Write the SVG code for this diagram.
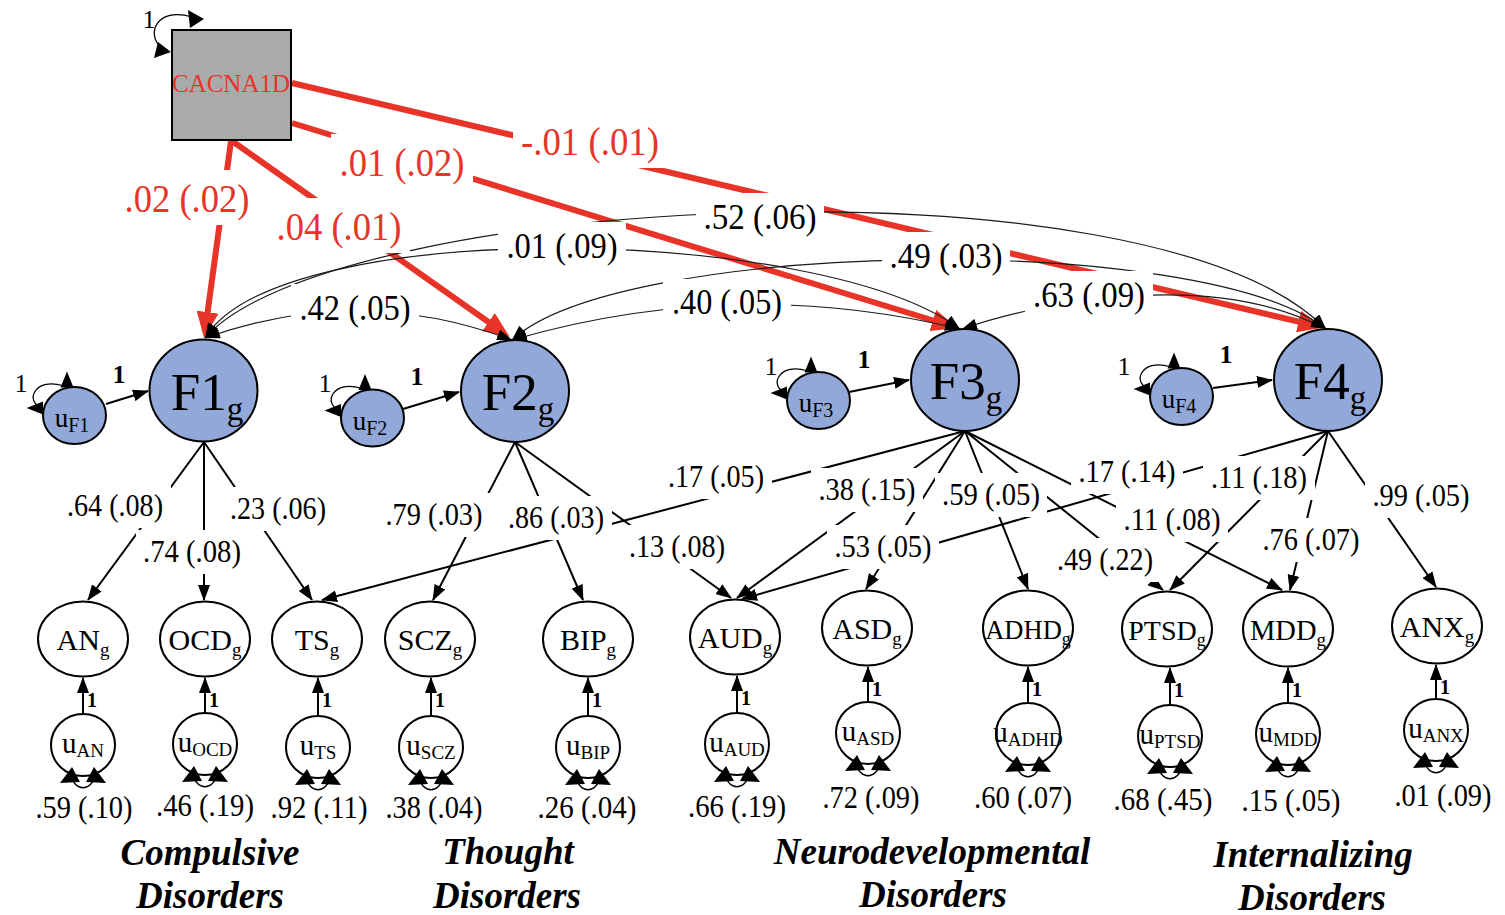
<svg xmlns="http://www.w3.org/2000/svg" width="1505" height="915" viewBox="0 0 1505 915">
<style>
text{font-family:'Liberation Serif','Times New Roman',serif;fill:#000}
.fac{fill:#91a8d8;stroke:#000;stroke-width:2}
.ind{fill:#fff;stroke:#000;stroke-width:2}
.box{fill:#aaa;stroke:#000;stroke-width:2}
.load{fill:none;stroke:#000;stroke-width:2;marker-end:url(#ah)}
.cov{fill:none;stroke:#1a1a1a;stroke-width:1.2;marker-start:url(#ahc);marker-end:url(#ahc)}
.red{fill:none;stroke:#e83428;stroke-width:6;marker-end:url(#ahr)}
.loop{fill:none;stroke:#000;stroke-width:1.3}
.bg{fill:#fff}
.l28{font-size:31px;text-anchor:middle}
.l32{font-size:35px;text-anchor:middle}
.lr{font-size:39px;text-anchor:middle;fill:#e83428}
.grp{font-size:37px;font-weight:bold;font-style:italic;text-anchor:middle}
.one{font-size:26px;text-anchor:middle}
.oneb{font-size:26px;font-weight:bold;text-anchor:middle}
.onei{font-size:20px;font-weight:bold}
.fl{font-size:53px;text-anchor:middle}
.il{font-size:30px;text-anchor:middle}
.uf{font-size:27px;text-anchor:middle}
.ui{font-size:29px;text-anchor:middle}
.var{font-size:31.5px;text-anchor:middle}
</style>
<defs>
<marker id="ah" viewBox="0 0 16 12" refX="15" refY="6" markerWidth="16" markerHeight="12" markerUnits="userSpaceOnUse" orient="auto"><path d="M0,0L16,6L0,12z" fill="#000"/></marker>
<marker id="ahc" viewBox="0 0 15 11" refX="15" refY="5.5" markerWidth="15" markerHeight="11" markerUnits="userSpaceOnUse" orient="auto-start-reverse"><path d="M0,0L15,5.5L0,11z" fill="#000"/></marker>
<marker id="ahr" viewBox="0 0 26 22" refX="19" refY="11" markerWidth="26" markerHeight="22" markerUnits="userSpaceOnUse" orient="auto"><path d="M0,0L26,11L0,22z" fill="#e83428"/></marker>
<g id="uloop"><path class="loop" d="M-12 30 C-9 47 9 47 12 30"/><polygon points="-23,38 -11,22 -3,37"/><polygon points="3,37 11,22 23,38"/></g>
<g id="floop"><path class="loop" d="M-12 -30 C-40 -38 -50 -14 -33 -8"/><polygon points="-7.5,-44 -14,-28 -1,-28"/><polygon points="-48,-7.5 -31.5,-14 -31.5,-1"/></g>
</defs>

<g id="connectors">
  <path class="red" d="M231 141 L205 331"/>
  <path class="red" d="M232 141 L504 333"/>
  <path class="red" d="M292 123 L951 326"/>
  <path class="red" d="M292 83 L1317 326"/>
  <path class="cov" d="M205 338 Q359 283 512 340"/>
  <path class="cov" d="M205 338 C280 215 820 225 960 329"/>
  <path class="cov" d="M205 338 C330 195 1150 150 1326 329"/>
  <path class="cov" d="M512 340 Q736 275 960 329"/>
  <path class="cov" d="M512 340 C620 240 1200 230 1326 329"/>
  <path class="cov" d="M962 329 C1040 302 1210 268 1326 329"/>
  <path class="load" d="M204 442 L88 600"/>
  <path class="load" d="M204 442 L204 600"/>
  <path class="load" d="M204 442 L312 600"/>
  <path class="load" d="M515 442 L433 600"/>
  <path class="load" d="M515 442 L583 600"/>
  <path class="load" d="M515 442 L731 598"/>
  <path class="load" d="M965 431 L322 600"/>
  <path class="load" d="M965 431 L737 598"/>
  <path class="load" d="M965 431 L866 589"/>
  <path class="load" d="M965 431 L1028 589"/>
  <path class="load" d="M965 431 L1163 590"/>
  <path class="load" d="M965 431 L1282 590"/>
  <path class="load" d="M1328 431 L742 599"/>
  <path class="load" d="M1328 431 L1170 590"/>
  <path class="load" d="M1328 431 L1290 590"/>
  <path class="load" d="M1328 431 L1436 587"/>
  <path class="load" d="M106 404 L148 391"/>
  <path class="load" d="M403 409 L459 392"/>
  <path class="load" d="M849 392 L909 380"/>
  <path class="load" d="M1213 388 L1272 380"/>
  <path class="load" d="M83 714 L83 678"/>
  <path class="load" d="M205 713 L205 678"/>
  <path class="load" d="M318 716 L318 678"/>
  <path class="load" d="M431 716 L431 678"/>
  <path class="load" d="M588 716 L588 678"/>
  <path class="load" d="M737 713 L737 676"/>
  <path class="load" d="M868 702 L868 667"/>
  <path class="load" d="M1028 703 L1028 667"/>
  <path class="load" d="M1170 705 L1170 668"/>
  <path class="load" d="M1288 703 L1288 668"/>
  <path class="load" d="M1436 699 L1436 665"/>
</g>

<g id="edge-labels">
  <rect class="bg" x="116" y="170" width="142" height="55"/><text class="lr" x="187" y="212" textLength="125" lengthAdjust="spacingAndGlyphs">.02 (.02)</text>
  <rect class="bg" x="268" y="198" width="142" height="55"/><text class="lr" x="339" y="240" textLength="125" lengthAdjust="spacingAndGlyphs">.04 (.01)</text>
  <rect class="bg" x="331" y="134" width="142" height="55"/><text class="lr" x="402" y="176" textLength="125" lengthAdjust="spacingAndGlyphs">.01 (.02)</text>
  <rect class="bg" x="513" y="113" width="154" height="55"/><text class="lr" x="590" y="155" textLength="138" lengthAdjust="spacingAndGlyphs">-.01 (.01)</text>

  <rect class="bg" x="291" y="284" width="128" height="48"/><text class="l32" x="355" y="320" textLength="111" lengthAdjust="spacingAndGlyphs">.42 (.05)</text>
  <rect class="bg" x="498" y="222" width="128" height="48"/><text class="l32" x="562" y="258" textLength="111" lengthAdjust="spacingAndGlyphs">.01 (.09)</text>
  <rect class="bg" x="696" y="193" width="128" height="48"/><text class="l32" x="760" y="229" textLength="113" lengthAdjust="spacingAndGlyphs">.52 (.06)</text>
  <rect class="bg" x="663" y="279" width="128" height="48"/><text class="l32" x="727" y="314" textLength="110" lengthAdjust="spacingAndGlyphs">.40 (.05)</text>
  <rect class="bg" x="882" y="232" width="128" height="48"/><text class="l32" x="946" y="268" textLength="113" lengthAdjust="spacingAndGlyphs">.49 (.03)</text>
  <rect class="bg" x="1025" y="271" width="128" height="48"/><text class="l32" x="1089" y="307" textLength="112" lengthAdjust="spacingAndGlyphs">.63 (.09)</text>

  <rect class="bg" x="59" y="484" width="112" height="44"/><text class="l28" x="115" y="516" textLength="96" lengthAdjust="spacingAndGlyphs">.64 (.08)</text>
  <rect class="bg" x="136" y="530" width="112" height="44"/><text class="l28" x="192" y="562" textLength="98" lengthAdjust="spacingAndGlyphs">.74 (.08)</text>
  <rect class="bg" x="222" y="487" width="112" height="44"/><text class="l28" x="278" y="519" textLength="96" lengthAdjust="spacingAndGlyphs">.23 (.06)</text>
  <rect class="bg" x="378" y="493" width="112" height="44"/><text class="l28" x="434" y="525" textLength="97" lengthAdjust="spacingAndGlyphs">.79 (.03)</text>
  <rect class="bg" x="500" y="496" width="112" height="44"/><text class="l28" x="556" y="528" textLength="96" lengthAdjust="spacingAndGlyphs">.86 (.03)</text>
  <rect class="bg" x="621" y="525" width="112" height="44"/><text class="l28" x="677" y="557" textLength="96" lengthAdjust="spacingAndGlyphs">.13 (.08)</text>
  <rect class="bg" x="660" y="455" width="112" height="44"/><text class="l28" x="716" y="487" textLength="96" lengthAdjust="spacingAndGlyphs">.17 (.05)</text>
  <rect class="bg" x="811" y="468" width="112" height="44"/><text class="l28" x="867" y="500" textLength="97" lengthAdjust="spacingAndGlyphs">.38 (.15)</text>
  <rect class="bg" x="935" y="473" width="112" height="44"/><text class="l28" x="991" y="505" textLength="98" lengthAdjust="spacingAndGlyphs">.59 (.05)</text>
  <rect class="bg" x="827" y="525" width="112" height="44"/><text class="l28" x="883" y="557" textLength="97" lengthAdjust="spacingAndGlyphs">.53 (.05)</text>
  <rect class="bg" x="1071" y="450" width="112" height="44"/><text class="l28" x="1127" y="482" textLength="97" lengthAdjust="spacingAndGlyphs">.17 (.14)</text>
  <rect class="bg" x="1049" y="538" width="112" height="44"/><text class="l28" x="1105" y="570" textLength="96" lengthAdjust="spacingAndGlyphs">.49 (.22)</text>
  <rect class="bg" x="1116" y="498" width="112" height="44"/><text class="l28" x="1172" y="530" textLength="97" lengthAdjust="spacingAndGlyphs">.11 (.08)</text>
  <rect class="bg" x="1203" y="456" width="112" height="44"/><text class="l28" x="1259" y="488" textLength="96" lengthAdjust="spacingAndGlyphs">.11 (.18)</text>
  <rect class="bg" x="1255" y="518" width="112" height="44"/><text class="l28" x="1311" y="550" textLength="97" lengthAdjust="spacingAndGlyphs">.76 (.07)</text>
  <rect class="bg" x="1365" y="474" width="112" height="44"/><text class="l28" x="1421" y="506" textLength="97" lengthAdjust="spacingAndGlyphs">.99 (.05)</text>
</g>

<g id="CACNA1D">
  <rect class="box" x="172" y="30" width="119" height="110"/>
  <text x="231" y="92" font-size="25" text-anchor="middle" style="fill:#e83428">CACNA1D</text>
  <path class="loop" d="M161 47 C146 35 156 6 192 17"/>
  <polygon points="204,19 188,10 190,28"/>
  <polygon points="154,58 158,42 171,52"/>
  <text class="one" x="149" y="28">1</text>
</g>

<g id="F1"><ellipse class="fac" cx="203.5" cy="390.5" rx="54" ry="51"/><text class="fl" x="207" y="410">F1<tspan font-size="33" dy="10">g</tspan></text></g>
<g id="F2"><ellipse class="fac" cx="515" cy="391" rx="54" ry="51"/><text class="fl" x="518" y="410">F2<tspan font-size="33" dy="10">g</tspan></text></g>
<g id="F3"><ellipse class="fac" cx="965" cy="380" rx="54" ry="51"/><text class="fl" x="966" y="399">F3<tspan font-size="33" dy="10">g</tspan></text></g>
<g id="F4"><ellipse class="fac" cx="1328" cy="380" rx="54" ry="51"/><text class="fl" x="1330" y="399">F4<tspan font-size="33" dy="10">g</tspan></text></g>

<g id="uF1"><ellipse class="fac" cx="74.5" cy="415.5" rx="31.5" ry="28.5"/><text class="uf" x="72" y="427">u<tspan font-size="20" dy="5">F1</tspan></text><use href="#floop" x="74.5" y="415.5"/><text class="one" x="21" y="392">1</text><text class="oneb" x="119" y="383">1</text></g>
<g id="uF2"><ellipse class="fac" cx="372.5" cy="418" rx="31.5" ry="28.5"/><text class="uf" x="370" y="430">u<tspan font-size="20" dy="5">F2</tspan></text><use href="#floop" x="372.5" y="418"/><text class="one" x="325" y="392">1</text><text class="oneb" x="417" y="385">1</text></g>
<g id="uF3"><ellipse class="fac" cx="818.5" cy="400.5" rx="31.5" ry="28.5"/><text class="uf" x="816" y="412">u<tspan font-size="20" dy="5">F3</tspan></text><use href="#floop" x="818.5" y="400.5"/><text class="one" x="771" y="375">1</text><text class="oneb" x="864" y="368">1</text></g>
<g id="uF4"><ellipse class="fac" cx="1181.5" cy="396.5" rx="31.5" ry="28.5"/><text class="uf" x="1179" y="408">u<tspan font-size="20" dy="5">F4</tspan></text><use href="#floop" x="1181.5" y="396.5"/><text class="one" x="1124" y="375">1</text><text class="oneb" x="1226" y="363">1</text></g>

<g id="AN"><ellipse class="ind" cx="83" cy="639" rx="45" ry="37.5"/><text class="il" x="83" y="650">AN<tspan font-size="19" dy="6">g</tspan></text></g>
<g id="OCD"><ellipse class="ind" cx="205" cy="639" rx="45" ry="37.5"/><text class="il" x="205" y="650">OCD<tspan font-size="19" dy="6">g</tspan></text></g>
<g id="TS"><ellipse class="ind" cx="317" cy="639" rx="45" ry="37.5"/><text class="il" x="317" y="650">TS<tspan font-size="19" dy="6">g</tspan></text></g>
<g id="SCZ"><ellipse class="ind" cx="430" cy="639" rx="45" ry="37.5"/><text class="il" x="430" y="650">SCZ<tspan font-size="19" dy="6">g</tspan></text></g>
<g id="BIP"><ellipse class="ind" cx="588" cy="639" rx="45" ry="37.5"/><text class="il" x="588" y="650">BIP<tspan font-size="19" dy="6">g</tspan></text></g>
<g id="AUD"><ellipse class="ind" cx="735" cy="637" rx="45" ry="37.5"/><text class="il" x="735" y="648">AUD<tspan font-size="19" dy="6">g</tspan></text></g>
<g id="ASD"><ellipse class="ind" cx="867" cy="628" rx="45" ry="37.5"/><text class="il" x="867" y="639">ASD<tspan font-size="19" dy="6">g</tspan></text></g>
<g id="ADHD"><ellipse class="ind" cx="1028" cy="628" rx="45" ry="37.5"/><text class="il" x="1028" y="639" font-size="26.5" style="font-size:26.5px">ADHD<tspan font-size="18" dy="6">g</tspan></text></g>
<g id="PTSD"><ellipse class="ind" cx="1167" cy="629" rx="45" ry="37.5"/><text class="il" x="1167" y="640" style="font-size:28px">PTSD<tspan font-size="18" dy="6">g</tspan></text></g>
<g id="MDD"><ellipse class="ind" cx="1288" cy="629" rx="45" ry="37.5"/><text class="il" x="1288" y="640" style="font-size:28.5px">MDD<tspan font-size="19" dy="6">g</tspan></text></g>
<g id="ANX"><ellipse class="ind" cx="1437" cy="626" rx="45" ry="37.5"/><text class="il" x="1437" y="637">ANX<tspan font-size="19" dy="6">g</tspan></text></g>

<g id="uAN"><ellipse class="ind" cx="83" cy="745" rx="32" ry="31"/><text class="ui" x="83" y="753">u<tspan font-size="19" dy="4">AN</tspan></text><use href="#uloop" x="83" y="745"/><text class="onei" x="87" y="707">1</text><text class="var" x="84" y="818" textLength="97" lengthAdjust="spacingAndGlyphs">.59 (.10)</text></g>
<g id="uOCD"><ellipse class="ind" cx="205" cy="744" rx="32" ry="31"/><text class="ui" x="205" y="752">u<tspan font-size="19" dy="4">OCD</tspan></text><use href="#uloop" x="205" y="744"/><text class="onei" x="209" y="707">1</text><text class="var" x="205" y="816" textLength="98" lengthAdjust="spacingAndGlyphs">.46 (.19)</text></g>
<g id="uTS"><ellipse class="ind" cx="318" cy="747" rx="32" ry="31"/><text class="ui" x="318" y="755">u<tspan font-size="19" dy="4">TS</tspan></text><use href="#uloop" x="318" y="747"/><text class="onei" x="322" y="707">1</text><text class="var" x="319" y="818" textLength="97" lengthAdjust="spacingAndGlyphs">.92 (.11)</text></g>
<g id="uSCZ"><ellipse class="ind" cx="431" cy="747" rx="32" ry="31"/><text class="ui" x="431" y="755">u<tspan font-size="19" dy="4">SCZ</tspan></text><use href="#uloop" x="431" y="747"/><text class="onei" x="435" y="707">1</text><text class="var" x="434" y="818" textLength="97" lengthAdjust="spacingAndGlyphs">.38 (.04)</text></g>
<g id="uBIP"><ellipse class="ind" cx="588" cy="747" rx="32" ry="31"/><text class="ui" x="588" y="755">u<tspan font-size="19" dy="4">BIP</tspan></text><use href="#uloop" x="588" y="747"/><text class="onei" x="592" y="707">1</text><text class="var" x="587" y="818" textLength="99" lengthAdjust="spacingAndGlyphs">.26 (.04)</text></g>
<g id="uAUD"><ellipse class="ind" cx="737" cy="744" rx="32" ry="31"/><text class="ui" x="737" y="752">u<tspan font-size="19" dy="4">AUD</tspan></text><use href="#uloop" x="737" y="744"/><text class="onei" x="741" y="705">1</text><text class="var" x="737" y="817" textLength="98" lengthAdjust="spacingAndGlyphs">.66 (.19)</text></g>
<g id="uASD"><ellipse class="ind" cx="868" cy="733" rx="32" ry="31"/><text class="ui" x="868" y="741">u<tspan font-size="19" dy="4">ASD</tspan></text><use href="#uloop" x="868" y="733"/><text class="onei" x="872" y="696">1</text><text class="var" x="871" y="808" textLength="97" lengthAdjust="spacingAndGlyphs">.72 (.09)</text></g>
<g id="uADHD"><ellipse class="ind" cx="1028" cy="734" rx="32" ry="31"/><text class="ui" x="1028" y="742">u<tspan font-size="19" dy="4">ADHD</tspan></text><use href="#uloop" x="1028" y="734"/><text class="onei" x="1032" y="696">1</text><text class="var" x="1023" y="808" textLength="98" lengthAdjust="spacingAndGlyphs">.60 (.07)</text></g>
<g id="uPTSD"><ellipse class="ind" cx="1170" cy="736" rx="32" ry="31"/><text class="ui" x="1170" y="744">u<tspan font-size="19" dy="4">PTSD</tspan></text><use href="#uloop" x="1170" y="736"/><text class="onei" x="1174" y="697">1</text><text class="var" x="1163" y="810" textLength="99" lengthAdjust="spacingAndGlyphs">.68 (.45)</text></g>
<g id="uMDD"><ellipse class="ind" cx="1288" cy="734" rx="32" ry="31"/><text class="ui" x="1288" y="742">u<tspan font-size="19" dy="4">MDD</tspan></text><use href="#uloop" x="1288" y="734"/><text class="onei" x="1292" y="697">1</text><text class="var" x="1291" y="811" textLength="99" lengthAdjust="spacingAndGlyphs">.15 (.05)</text></g>
<g id="uANX"><ellipse class="ind" cx="1436" cy="730" rx="32" ry="31"/><text class="ui" x="1436" y="738">u<tspan font-size="19" dy="4">ANX</tspan></text><use href="#uloop" x="1436" y="730"/><text class="onei" x="1440" y="694">1</text><text class="var" x="1443" y="806" textLength="97" lengthAdjust="spacingAndGlyphs">.01 (.09)</text></g>

<g id="group-labels">
  <text class="grp" x="210" y="865">Compulsive</text>
  <text class="grp" x="210" y="908">Disorders</text>
  <text class="grp" x="508" y="864">Thought</text>
  <text class="grp" x="507" y="908">Disorders</text>
  <text class="grp" x="932" y="864">Neurodevelopmental</text>
  <text class="grp" x="933" y="907">Disorders</text>
  <text class="grp" x="1313" y="867">Internalizing</text>
  <text class="grp" x="1312" y="910">Disorders</text>
</g>
</svg>
